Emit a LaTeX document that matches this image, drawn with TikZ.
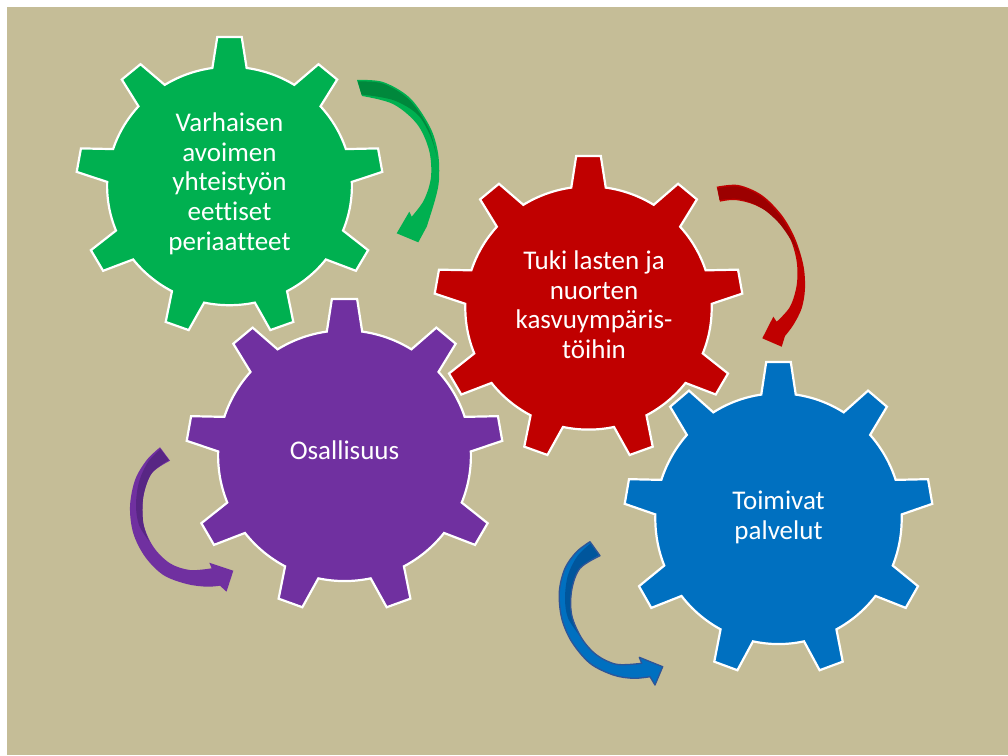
\documentclass[tikz,border=0pt]{standalone}
\usepackage{fontspec}
\setmainfont{Carlito}[Ligatures={NoCommon}]
\definecolor{bg}{RGB}{197,189,151}
\definecolor{ggreen}{RGB}{0,176,80}
\definecolor{ggreendk}{RGB}{0,136,60}
\definecolor{gred}{RGB}{192,0,0}
\definecolor{greddk}{RGB}{156,0,0}
\definecolor{gpurple}{RGB}{112,48,160}
\definecolor{gpurpledk}{RGB}{88,38,132}
\definecolor{gblue}{RGB}{0,112,192}
\definecolor{gbluedk}{RGB}{0,86,156}
\definecolor{gblueedge}{RGB}{47,85,151}
\newcommand\mygear[5]{%
  \begin{scope}[shift={(#1,#2)}, xscale=#3, yscale=#4]
    \draw[gearline, fill=#5] (-94.57:1.0032)
      \foreach \k [evaluate=\k as \a using {-90+40*\k}] in {0,...,7}{
        -- ({\a+4.57}:1.0032) -- ({\a+8.05}:0.8)
        arc[start angle={\a+8.05}, end angle={\a+31.95}, radius=0.8]
        -- ({\a+35.43}:1.0032)
      }
      -- (234.57:1.0032) -- (238.05:0.8)
      arc[start angle=238.05, end angle=261.95, radius=0.8] -- cycle;
  \end{scope}}
\begin{document}
\begin{tikzpicture}[x=1pt,y=-1pt,
  gearline/.style={draw=white, line width=2.2pt, line join=miter},
  geartext/.style={text=white, align=center, inner sep=0pt, font=\fontsize{27}{29.75}\selectfont},
  smoothedge/.style={smooth, tension=0.55}]
\useasboundingbox (0,0) rectangle (1008,755);
\fill[white] (0,0) rectangle (1008,755);
\fill[bg] (7,7) rectangle (1008,755);

% gears
\mygear{229.5}{186}{153}{149}{ggreen}
\node[geartext] (tgreen) at (229.5,185) {\strut Varhaisen\\avoimen\\yhteistyön\\eettiset\\periaatteet\strut};
\mygear{344.5}{455.7}{158}{156.7}{gpurple}
\node[geartext] (tpurple) at (344.5,454) {\strut Osallisuus\strut};
\mygear{588.5}{308}{154}{152}{gred}
\node[geartext] (tred) at (594,308) {\strut Tuki lasten ja\\nuorten\\kasvuympäris-\\töihin\strut};
\mygear{778.5}{518.7}{154}{156.7}{gblue}
\node[geartext] (tblue) at (778.5,518.5) {\strut Toimivat\\palvelut\strut};

% green arrow
\fill[ggreen] plot[smoothedge] coordinates {(357,80) (383,82) (410,98) (430,127) (438,153) (439,180) (435,200) (426.7,226.7)}
  -- (418.3,242.3) -- (396.7,233.3) -- (409.3,211.7)
  -- plot[smoothedge] coordinates {(411.7,216.7) (424,200) (431,177) (429,150) (417,124) (393,104) (362,96)} -- cycle;
\fill[ggreendk] plot[smoothedge] coordinates {(357.8,81.5) (383,83.6) (409,99.6) (428.5,128) (437,157)}
  -- plot[smoothedge] coordinates {(437,157) (430,135) (417,114) (393,100) (361.5,94.5)} -- cycle;

% red arrow
\fill[gred] plot[smoothedge] coordinates {(716.7,186.7) (738.3,185) (761.7,195) (781.7,215) (795,238.3) (803.3,265) (805,288.3) (801.7,308.3) (793.3,325) (785,336)}
  -- (781.7,346.7) -- (762.3,338.3) -- (773.3,316.7)
  -- plot[smoothedge] coordinates {(776.7,321.7) (790,306.7) (796.7,285) (796.7,261.7) (790,238.3) (776.7,218.3) (755,205) (735,200) (720,201.7)} -- cycle;
\fill[greddk] plot[smoothedge] coordinates {(717.5,188.2) (738.3,186.6) (761,196.5) (780.5,216.5) (793.5,239.5) (801,258)}
  -- plot[smoothedge] coordinates {(801,258) (791,240) (778,222) (760,207) (738,199) (719.5,200)} -- cycle;

% purple arrow
\fill[gpurple] plot[smoothedge] coordinates {(160,447.3) (146.7,460) (135,480) (130,506.7) (133.3,533.3) (145,556.7) (163.3,575) (186.7,584) (206.7,586.7) (220,585.7)}
  -- (226.5,591.7) -- (233.3,570.7) -- (209.3,562.7)
  -- plot[smoothedge] coordinates {(211.7,568.3) (190,570) (170,563.3) (153.3,546.7) (143.3,523.3) (143.3,496.7) (151.7,473.3) (170,460.7)} -- cycle;
\fill[gpurpledk] plot[smoothedge] coordinates {(160.5,449) (148,462) (139,482) (136,505) (139,525) (149,541)}
  -- plot[smoothedge] coordinates {(149,541) (143.3,523.3) (143.3,496.7) (151.7,473.3) (168.8,460)} -- cycle;

% blue arrow
\path[fill=gblue] plot[smoothedge] coordinates {(590,541.7) (576.7,551.7) (565,568.3) (559.3,591.7) (561.7,618.3) (571.7,641.7) (590,663.3) (613.3,675) (633.3,678.3) (650,676.7)}
  -- (655,685) -- (662.7,666.7) -- (639.3,657.3)
  -- plot[smoothedge] coordinates {(641.7,663.3) (616.7,664.3) (596.7,655) (581.7,638.3) (571.7,615) (571.7,590) (580,568.3) (600,555.7)} -- cycle;
\fill[gbluedk] plot[smoothedge] coordinates {(590.5,543.5) (577.5,556) (568,575) (565,598) (568,618) (580,636)}
  -- plot[smoothedge] coordinates {(580,636) (571.7,615) (571.7,590) (580,568.3) (598.8,555)} -- cycle;
\draw[gblueedge, line width=1.3pt, line join=round] plot[smoothedge] coordinates {(590,541.7) (576.7,551.7) (565,568.3) (559.3,591.7) (561.7,618.3) (571.7,641.7) (590,663.3) (613.3,675) (633.3,678.3) (650,676.7)}
  -- (655,685) -- (662.7,666.7) -- (639.3,657.3)
  -- plot[smoothedge] coordinates {(641.7,663.3) (616.7,664.3) (596.7,655) (581.7,638.3) (571.7,615) (571.7,590) (580,568.3) (600,555.7)} -- cycle;
\end{tikzpicture}
\end{document}
